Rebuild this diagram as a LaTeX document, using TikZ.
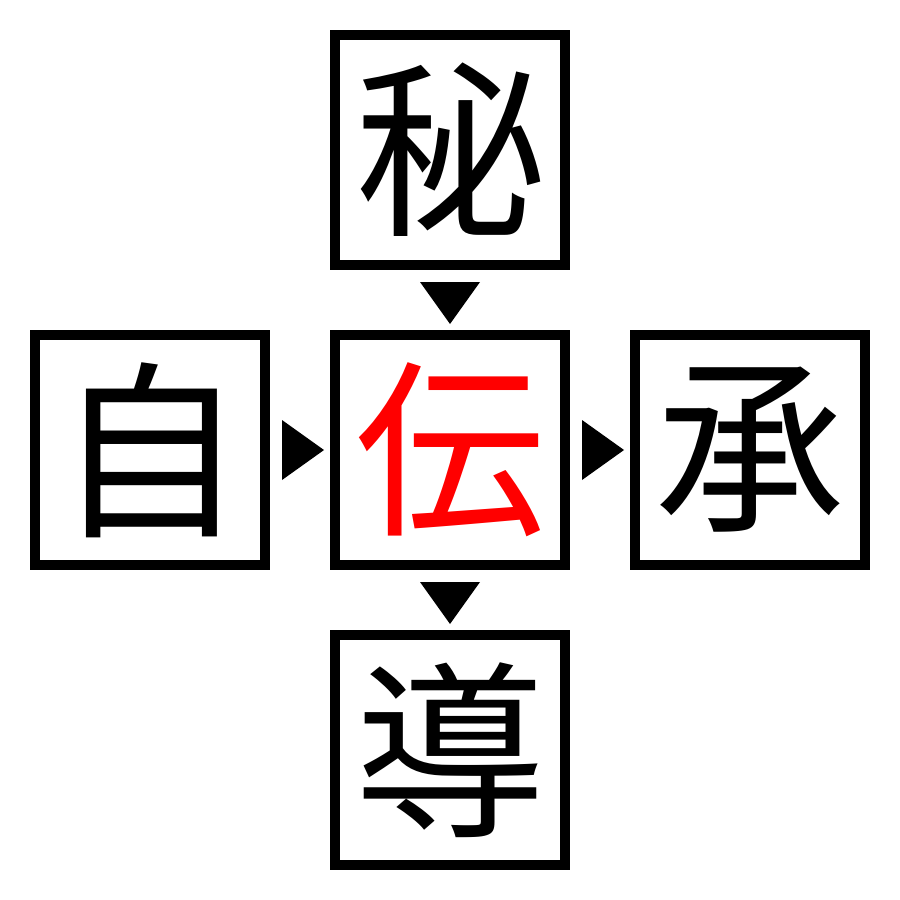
\documentclass[tikz,border=0pt]{standalone}
\usepackage{fontspec}
\newfontfamily\cjk{Noto Sans CJK JP}
\begin{document}
\begin{tikzpicture}[x=0.03cm,y=-0.03cm,
  cell/.style={draw=black,line width=0.3cm,minimum size=6.9cm,inner sep=0pt,outer sep=0pt,
    font=\cjk\fontsize{162pt}{162pt}\selectfont},
  tri/.style={fill=black,draw=none}]
\useasboundingbox (0,0) rectangle (900,900);
\node[cell] (top) at (450,150) {秘};
\node[cell] (left) at (150,450) {自};
\node[cell,text=red] (mid) at (450,450) {伝};
\node[cell] (right) at (750,450) {承};
\node[cell] (bot) at (450,750) {導};
\coordinate (t1) at (450,303);
\coordinate (t2) at (450,603);
\coordinate (l1) at (303,450);
\coordinate (l2) at (603,450);
\fill[tri] ([shift={(-30,-21)}]t1) -- ([shift={(30,-21)}]t1) -- ([shift={(0,21)}]t1) -- cycle;
\fill[tri] ([shift={(-30,-21)}]t2) -- ([shift={(30,-21)}]t2) -- ([shift={(0,21)}]t2) -- cycle;
\fill[tri] ([shift={(-21,-30)}]l1) -- ([shift={(-21,30)}]l1) -- ([shift={(21,0)}]l1) -- cycle;
\fill[tri] ([shift={(-21,-30)}]l2) -- ([shift={(-21,30)}]l2) -- ([shift={(21,0)}]l2) -- cycle;
\end{tikzpicture}
\end{document}
